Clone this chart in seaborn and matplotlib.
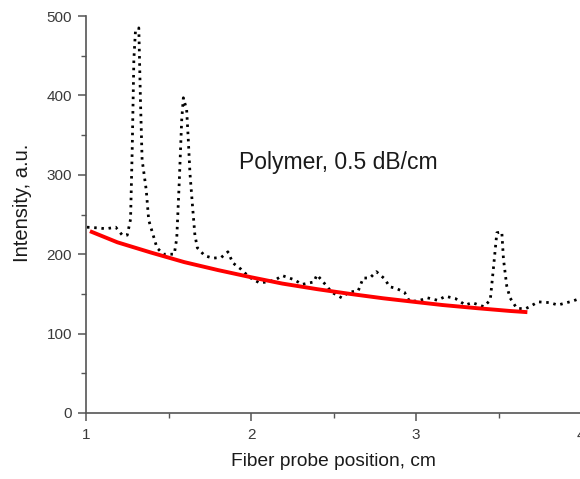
import numpy as np
import pandas as pd
import matplotlib
matplotlib.use("Agg")
import matplotlib.pyplot as plt
import seaborn as sns
from matplotlib.ticker import MultipleLocator

# Measured intensity (dotted black)
pos_cm = [1.006, 1.08, 1.12, 1.18, 1.22, 1.25, 1.27, 1.28, 1.29, 1.30, 1.32, 1.33, 1.34, 1.365,
          1.38, 1.41, 1.43, 1.47, 1.535, 1.55, 1.565, 1.58, 1.59, 1.61, 1.62, 1.63, 1.645, 1.66,
          1.675, 1.72, 1.77, 1.82, 1.86, 1.89, 1.94, 1.99, 2.05, 2.10, 2.15, 2.19, 2.26, 2.31,
          2.38, 2.40, 2.45, 2.49, 2.55, 2.59, 2.65, 2.68, 2.72, 2.76, 2.81, 2.84, 2.88, 2.93,
          2.96, 3.01, 3.07, 3.13, 3.18, 3.24, 3.30, 3.34, 3.41, 3.45, 3.47, 3.49, 3.52, 3.53,
          3.55, 3.57, 3.61, 3.66, 3.69, 3.74, 3.81, 3.86, 3.95, 3.99]
intensity = [234, 233, 232, 234, 224, 224, 244, 331, 445, 482, 485, 394, 319, 281,
             243, 222, 208, 200, 200, 220, 290, 369, 397, 382, 344, 302, 262, 224,
             208, 198, 195, 196, 203, 189, 181, 171, 164, 165, 168, 173, 168, 162,
             165, 174, 162, 152, 145, 152, 154, 170, 170, 178, 169, 159, 157, 152,
             141, 141, 145, 142, 147, 144, 136, 139, 134, 142, 184, 227, 228, 194,
             160, 145, 132, 131, 134, 140, 139, 136, 141, 144]

# Loss fit (red)
fit_pos_cm = [1.024, 1.19, 1.395, 1.596, 1.80, 2.00, 2.19, 2.40, 2.60, 2.80, 3.01, 3.16, 3.37, 3.57, 3.675]
fit_intensity = [229, 215, 202, 190, 180, 171, 163, 156, 150, 144.5, 139.5, 136, 132, 128.5, 127]

x_ticks = [1, 2, 3, 4]
y_ticks = [0, 100, 200, 300, 400, 500]
annotation = "Polymer, 0.5 dB/cm"
x_label = "Fiber probe position, cm"
y_label = "Intensity, a.u."

sns.set_style("ticks")
plt.rcParams["font.family"] = ["Liberation Sans", "DejaVu Sans"]

W, H = 580, 479
fig = plt.figure(figsize=(W / 100, H / 100), dpi=100)
ax = fig.add_axes([86 / W, 66 / H, 495 / W, 397 / H])

meas = pd.DataFrame({"x": pos_cm, "y": intensity})
fit = pd.DataFrame({"x": fit_pos_cm, "y": fit_intensity})

sns.lineplot(data=meas, x="x", y="y", ax=ax, color="black", linewidth=2.0,
             linestyle=(0, (0.9, 1.7)), sort=False, estimator=None,
             dash_capstyle="butt")
sns.lineplot(data=fit, x="x", y="y", ax=ax, color="#ff0000", linewidth=2.8,
             sort=False, estimator=None, solid_capstyle="butt")

ax.set_xlim(1, 4)
ax.set_ylim(0, 500)
ax.set_xticks(x_ticks)
ax.set_yticks(y_ticks)
ax.xaxis.set_minor_locator(MultipleLocator(0.5))
ax.yaxis.set_minor_locator(MultipleLocator(50))

for s in ["top", "right"]:
    ax.spines[s].set_visible(False)
for s in ["left", "bottom"]:
    ax.spines[s].set_color("#555555")
    ax.spines[s].set_linewidth(1.2)

ax.tick_params(axis="both", which="major", direction="out", length=6, width=1.1,
               color="#555555", labelsize=11, labelcolor="#3a3a3a")
ax.tick_params(axis="both", which="minor", direction="out", length=3.5, width=1.0,
               color="#555555")
ax.tick_params(axis="x", which="major", pad=5)
ax.tick_params(axis="y", which="major", pad=4)

ax.set_xlabel(x_label, fontsize=13.8, color="#1a1a1a", labelpad=8)
ax.set_ylabel(y_label, fontsize=14.5, color="#1a1a1a")
ax.yaxis.set_label_coords(-0.11, 0.53)

ax.text(1.93, 316, annotation, fontsize=16.5, color="#1a1a1a", va="center", ha="left")

fig.savefig("out.png", dpi=100)
